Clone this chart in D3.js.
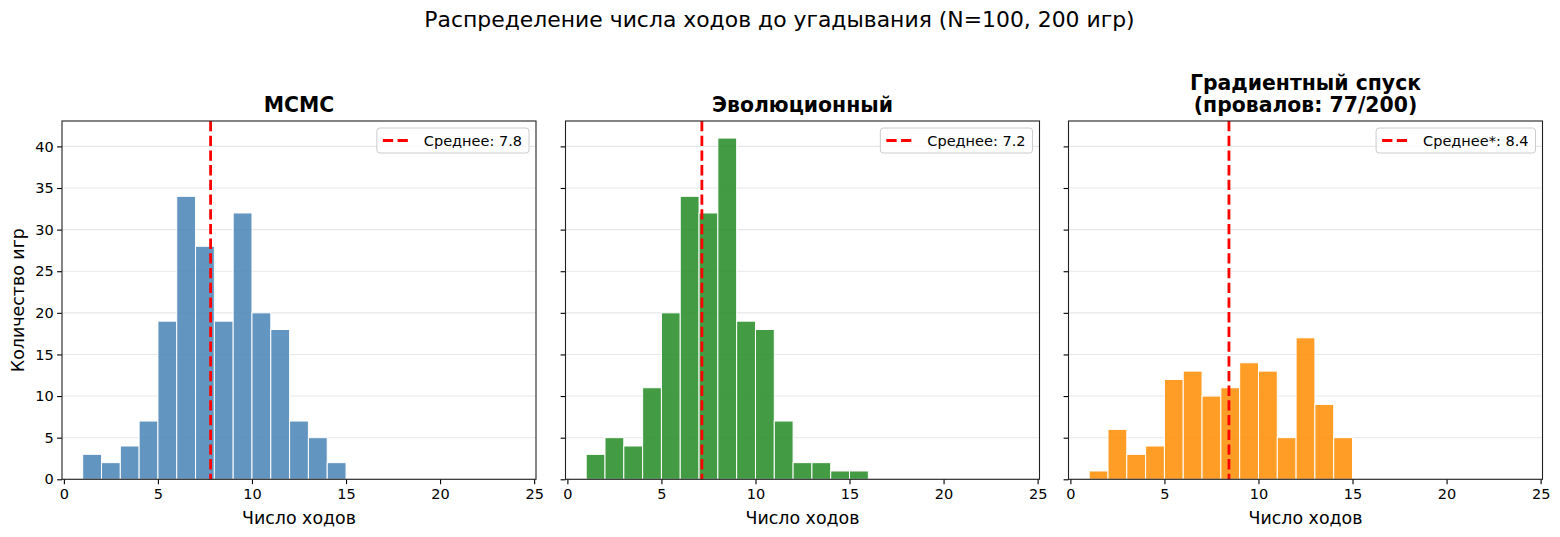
<!DOCTYPE html>
<html>
<head>
<meta charset="utf-8">
<script src="https://cdn.jsdelivr.net/npm/d3@7"></script>
<style>
  body { margin: 0; background: #fff; }
  text { font-family: "DejaVu Sans", sans-serif; fill: #000; }
</style>
</head>
<body>
<div id="chart"></div>
<script>
// Chart data
//=====================================================================
var binStart = 1;               // first bin edge, bins are 1 wide
var mcmcCounts = [3, 2, 4, 7, 19, 34, 28, 19, 32, 20, 18, 7, 5, 2];
var evoCounts = [3, 5, 4, 11, 20, 34, 32, 41, 19, 18, 7, 2, 2, 1, 1];
var gradCounts = [1, 6, 3, 4, 12, 13, 10, 11, 14, 13, 5, 17, 9, 5];
var means = [7.8, 7.15, 8.43];
var meanLabels = ["Среднее: 7.8", "Среднее: 7.2", "Среднее*: 8.4"];
var panelTitles = [["MCMC"], ["Эволюционный"], ["Градиентный спуск", "(провалов: 77/200)"]];
var xTicks = [0, 5, 10, 15, 20, 25];
var yTicks = [0, 5, 10, 15, 20, 25, 30, 35, 40];

var panels = [
    { counts: mcmcCounts, color: "steelblue" },
    { counts: evoCounts, color: "forestgreen" },
    { counts: gradCounts, color: "darkorange" }
];

// Layout
//=====================================================================
var svgWidth = 1560;
var svgHeight = 537;
var panelLefts = [62, 565.5, 1068.5];
var panelWidth = 474;
var plotTop = 121;
var plotBottom = 479.3;
var h = plotBottom - plotTop;

var svg = d3.select("#chart")
    .append("svg")
    .attr("width", svgWidth)
    .attr("height", svgHeight);

// Shared scales
var xScale = d3.scaleLinear()
    .domain([-0.1, 25.1])
    .range([0, panelWidth]);

var yScale = d3.scaleLinear()
    .domain([0, 43.05])
    .range([h, 0]);

// Figure title
svg.append("text")
    .attr("x", svgWidth / 2 - 0.5)
    .attr("y", 27)
    .attr("text-anchor", "middle")
    .style("font-size", "21.9px")
    .text("Распределение числа ходов до угадывания (N=100, 200 игр)");

// Y label (only left panel)
svg.append("text")
    .attr("transform", `translate(24, ${(plotTop + plotBottom) / 2}) rotate(-90)`)
    .attr("text-anchor", "middle")
    .style("font-size", "17.4px")
    .text("Количество игр");

panels.forEach(function (p, k) {
    var g = svg.append("g")
        .attr("transform", `translate(${panelLefts[k]}, ${plotTop})`);

    // grid
    g.append("g")
        .selectAll("line")
        .data(yTicks)
        .enter()
        .append("line")
        .attr("x1", 0)
        .attr("x2", panelWidth)
        .attr("y1", d => yScale(d))
        .attr("y2", d => yScale(d))
        .attr("stroke", "#b0b0b0")
        .attr("stroke-opacity", 0.3)
        .attr("stroke-width", 1.1);

    // bars
    g.append("g")
        .selectAll("rect")
        .data(p.counts)
        .enter()
        .append("rect")
        .attr("x", (d, i) => xScale(binStart + i))
        .attr("width", (d, i) => xScale(binStart + i + 1) - xScale(binStart + i))
        .attr("y", d => yScale(d))
        .attr("height", d => yScale(0) - yScale(d))
        .attr("fill", p.color)
        .attr("fill-opacity", 0.85)
        .attr("stroke", "white")
        .attr("stroke-width", 1);

    // mean line
    g.append("line")
        .attr("x1", xScale(means[k]))
        .attr("x2", xScale(means[k]))
        .attr("y1", 0)
        .attr("y2", h)
        .attr("stroke", "red")
        .attr("stroke-width", 2.8)
        .attr("stroke-dasharray", "10.3,4.4");

    // axes
    var xAxis = d3.axisBottom(xScale)
        .tickValues(xTicks)
        .tickSize(4.9)
        .tickPadding(4.5);
    var yAxis = d3.axisLeft(yScale)
        .tickValues(yTicks)
        .tickSize(4.9)
        .tickPadding(3.5);
    if (k > 0) yAxis.tickFormat("");

    var gx = g.append("g")
        .attr("transform", `translate(0, ${h})`)
        .call(xAxis);
    var gy = g.append("g")
        .call(yAxis);
    [gx, gy].forEach(function (a) {
        a.select(".domain").remove();
        a.selectAll(".tick line").attr("stroke", "#000").attr("stroke-width", 1.1);
        a.selectAll(".tick text")
            .style("font-family", "DejaVu Sans")
            .style("font-size", "14.5px")
            .attr("fill", "#000");
    });

    // frame
    g.append("rect")
        .attr("x", 0)
        .attr("y", 0)
        .attr("width", panelWidth)
        .attr("height", h)
        .attr("fill", "none")
        .attr("stroke", "#222")
        .attr("stroke-width", 1.1);

    // title
    var lines = panelTitles[k];
    lines.forEach(function (t, j) {
        g.append("text")
            .attr("x", panelWidth / 2)
            .attr("y", -9 - (lines.length - 1 - j) * 22.5)
            .attr("text-anchor", "middle")
            .style("font-size", "20.4px")
            .style("font-weight", "bold")
            .text(t);
    });

    // x label
    g.append("text")
        .attr("x", panelWidth / 2)
        .attr("y", h + 45)
        .attr("text-anchor", "middle")
        .style("font-size", "17.4px")
        .text("Число ходов");

    // legend
    var leg = g.append("g");
    var box = leg.append("rect")
        .attr("fill", "white")
        .attr("fill-opacity", 0.8)
        .attr("stroke", "#cccccc")
        .attr("stroke-width", 1)
        .attr("rx", 3);
    var lt = leg.append("text")
        .attr("y", 25)
        .style("font-size", "14.5px")
        .text(meanLabels[k]);
    var tw = lt.node().getComputedTextLength();
    var boxW = tw + 54;
    var boxX = panelWidth - 7 - boxW;
    box.attr("x", boxX).attr("y", 7).attr("width", boxW).attr("height", 25);
    lt.attr("x", boxX + 47);
    leg.append("line")
        .attr("x1", boxX + 6)
        .attr("x2", boxX + 33)
        .attr("y1", 19.5)
        .attr("y2", 19.5)
        .attr("stroke", "red")
        .attr("stroke-width", 2.8)
        .attr("stroke-dasharray", "10.3,4.4");
});
</script>
</body>
</html>
